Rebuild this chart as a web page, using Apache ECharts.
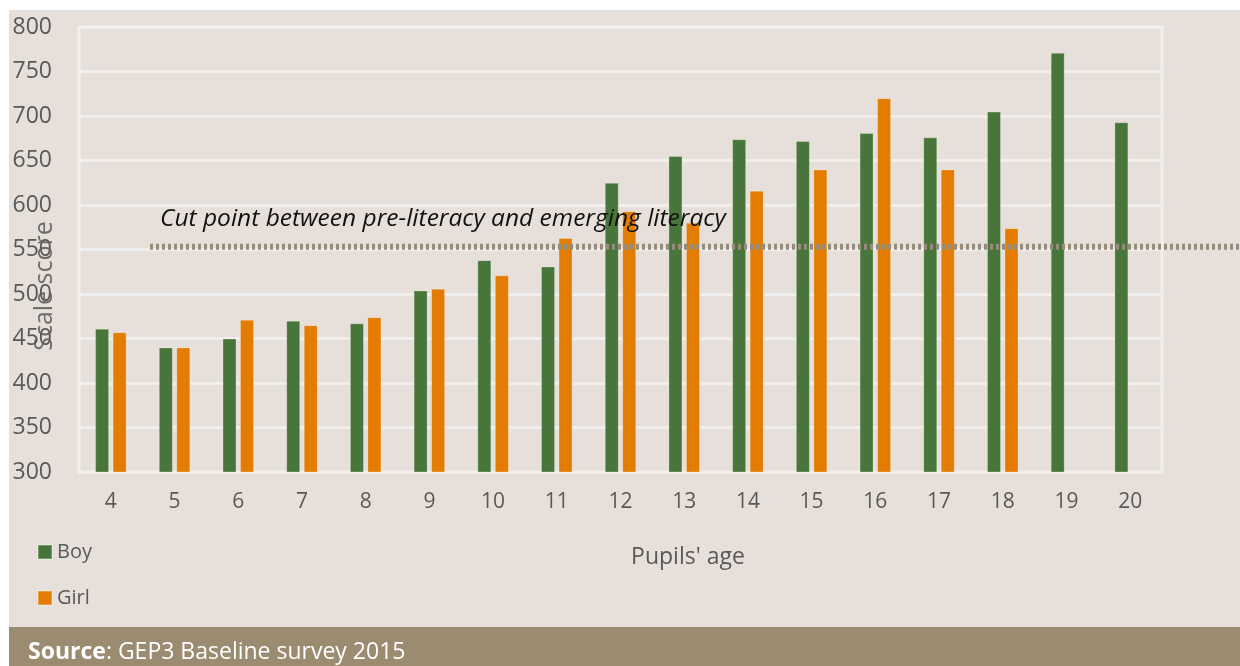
<!DOCTYPE html>
<html>
<head>
<meta charset="utf-8">
<script src="https://cdn.jsdelivr.net/npm/echarts@6/dist/echarts.min.js"></script>
<style>
  html, body { margin: 0; padding: 0; background: #fff; }
</style>
</head>
<body>
<div id="main" style="width: 1240px;height: 666px;"></div>
<script>
// data
var ages = ['4', '5', '6', '7', '8', '9', '10', '11', '12', '13', '14', '15', '16', '17', '18', '19', '20']
var boyScores = [461, 440, 450, 470, 467, 504, 538, 531, 625, 655, 674, 672, 681, 676, 705, 771, 693]
var girlScores = [457, 440, 471, 465, 474, 506, 521, 563, 593, 580, 616, 640, 720, 640, 574, 0, 0]
var yTicks = {min: 300, max: 800, step: 50}
var cutPoint = 553
var cutLabel = 'Cut point between pre-literacy and emerging literacy'

var font = '"Open Sans", Lato, sans-serif'
var grey = '#595959'

let mychart = echarts.init(document.getElementById('main'))

function extraGraphics (cutY) {
  var list = [
    // white strips round the panel
    {type: 'rect', shape: {x: 0, y: 0, width: 1240, height: 10}, style: {fill: '#fff'}, silent: true},
    {type: 'rect', shape: {x: 0, y: 0, width: 9, height: 666}, style: {fill: '#fff'}, silent: true},
    // source band
    {type: 'rect', shape: {x: 9, y: 627, width: 1231, height: 39}, style: {fill: '#9b8b71'}, silent: true},
    {
      type: 'text',
      x: 28,
      y: 652,
      style: {
        text: '{b|Source}: GEP3 Baseline survey 2015',
        fill: '#fff',
        font: '23px ' + font,
        verticalAlign: 'middle',
        rich: {b: {fontWeight: 'bold', fontSize: 23, fontFamily: font, fill: '#fff'}}
      }
    },
    // y axis name, Excel puts it over the tick labels
    {
      type: 'text',
      z: 30,
      x: 45,
      y: 286,
      rotation: Math.PI / 2,
      style: {
        text: 'Scale score',
        fill: 'rgba(95,95,95,0.9)',
        font: '25px ' + font,
        align: 'center',
        verticalAlign: 'middle'
      }
    },
    // x axis name
    {
      type: 'text',
      x: 688,
      y: 557,
      style: {
        text: "Pupils' age",
        fill: grey,
        font: '23px ' + font,
        align: 'center',
        verticalAlign: 'middle'
      }
    },
    {
      type: 'text',
      z: 30,
      x: 160,
      y: 219,
      style: {
        text: cutLabel,
        fill: '#111',
        font: 'italic 24.5px ' + font,
        verticalAlign: 'middle'
      }
    }
  ]
  if (cutY !== undefined) {
    list.push({
      type: 'line',
      z: 20,
      shape: {x1: 150, y1: cutY, x2: 1240, y2: cutY},
      style: {stroke: '#958c7c', lineWidth: 6, lineDash: [3, 3]}
    })
  }
  return list
}

var option = {
  backgroundColor: '#e7e0da',
  animation: false,
  grid: {
    left: 79,
    right: 78,
    top: 27,
    bottom: 194,
    show: true,
    borderColor: '#f1efed',
    borderWidth: 3
  },
  legend: {
    orient: 'vertical',
    left: 32,
    top: 537,
    itemWidth: 14,
    itemHeight: 14,
    itemGap: 26,
    icon: 'rect',
    textStyle: {color: grey, fontSize: 20, fontFamily: font},
    data: ['Boy', 'Girl']
  },
  xAxis: {
    type: 'category',
    data: ages,
    axisLine: {show: false},
    axisTick: {show: false},
    axisLabel: {color: grey, fontSize: 21, fontFamily: font, margin: 20}
  },
  yAxis: {
    type: 'value',
    min: yTicks.min,
    max: yTicks.max,
    interval: yTicks.step,
    axisLine: {show: false},
    axisTick: {show: false},
    axisLabel: {color: grey, fontSize: 23, fontFamily: font, margin: 27},
    splitLine: {lineStyle: {color: '#f1efed', width: 3}}
  },
  series: [
    {
      name: 'Boy',
      type: 'bar',
      clip: true,
      barWidth: 14,
      barGap: '25%',
      itemStyle: {color: '#48763a', borderColor: 'rgba(255,255,255,0.25)', borderWidth: 1},
      data: boyScores
    },
    {
      name: 'Girl',
      type: 'bar',
      clip: true,
      barWidth: 14,
      itemStyle: {color: '#e37c00', borderColor: 'rgba(255,255,255,0.25)', borderWidth: 1},
      data: girlScores
    }
  ],
  graphic: extraGraphics()
}
mychart.setOption(option)

// cut point line runs past the plot, so place it with the axis scale
var cutY = mychart.convertToPixel({yAxisIndex: 0}, cutPoint)
mychart.setOption({graphic: extraGraphics(cutY)})
</script>
</body>
</html>
